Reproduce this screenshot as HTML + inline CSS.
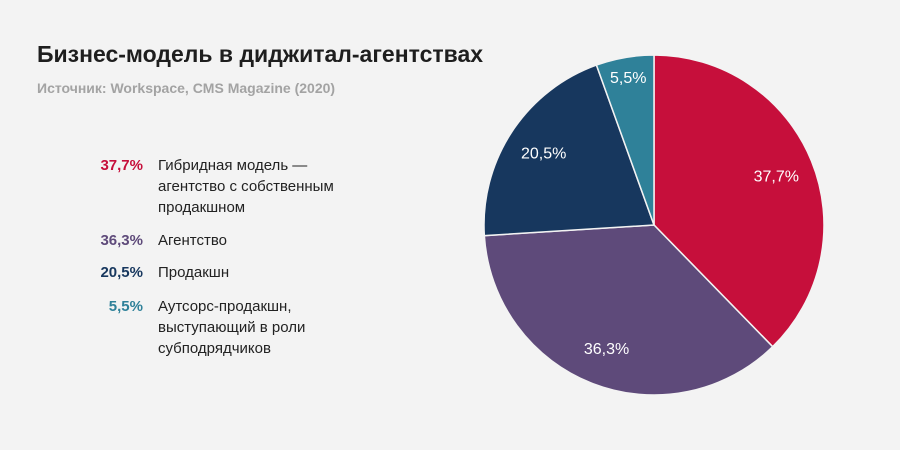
<!DOCTYPE html>
<html><head><meta charset="utf-8"><style>
body{margin:0;width:900px;height:450px;background:#f3f3f3;font-family:"Liberation Sans",sans-serif;overflow:hidden;position:relative}
.title{position:absolute;left:37px;top:41px;font-size:23px;font-weight:bold;color:#1e1e1e;letter-spacing:0px}
.sub{position:absolute;left:37px;top:80px;font-size:14px;font-weight:bold;color:#a3a3a3}
.leg{position:absolute;left:90px;width:300px;font-size:15px;line-height:21px;color:#222}
.leg b{position:absolute;left:0;width:53px;text-align:right}
.leg span{position:absolute;left:68px;width:240px;white-space:nowrap}
svg{position:absolute;left:0;top:0}
</style></head><body>
<div class="title">Бизнес-модель в диджитал-агентствах</div>
<div class="sub">Источник: Workspace, CMS Magazine (2020)</div>
<div id="legend"></div>
<svg id="pie" width="900" height="450"></svg>
<script>
const categories=["Гибридная модель —<br>агентство с собственным<br>продакшном","Агентство","Продакшн","Аутсорс-продакшн,<br>выступающий в роли<br>субподрядчиков"];
const values=[37.7,36.3,20.5,5.5];
const labels=["37,7%","36,3%","20,5%","5,5%"];
const colors=["#c60f3b","#5e4a7a","#17375e","#2f8199"];
const legTops=[155,230,262,296];
const cx=654,cy=225,R=170,ns="http://www.w3.org/2000/svg";
const svg=document.getElementById('pie');
const total=values.reduce((a,b)=>a+b,0);
let acc=0;
function pt(a,r){return [cx+r*Math.sin(a),cy-r*Math.cos(a)];}
values.forEach((v,i)=>{
  const a0=acc/total*2*Math.PI;acc+=v;const a1=acc/total*2*Math.PI;
  const p0=pt(a0,R),p1=pt(a1,R);
  const path=document.createElementNS(ns,'path');
  path.setAttribute('d',`M${cx},${cy}L${p0[0]},${p0[1]}A${R},${R} 0 ${a1-a0>Math.PI?1:0} 1 ${p1[0]},${p1[1]}Z`);
  path.setAttribute('fill',colors[i]);path.setAttribute('stroke','#f3f3f3');path.setAttribute('stroke-width','1.5');
  
  
  svg.appendChild(path);
  const m=pt((a0+a1)/2,v<10?150:132);
  const t=document.createElementNS(ns,'text');
  t.setAttribute('x',m[0]);t.setAttribute('y',m[1]+6);t.setAttribute('text-anchor','middle');
  t.setAttribute('fill','#fff');t.setAttribute('font-size','16');t.setAttribute('font-family','Liberation Sans, sans-serif');
  t.textContent=labels[i];
  
  
  svg.appendChild(t);
});
const leg=document.getElementById('legend');
categories.forEach((c,i)=>{
  const d=document.createElement('div');d.className='leg';d.style.top=legTops[i]+'px';
  
  
  d.innerHTML=`<b style="color:${colors[i]}">${labels[i]}</b><span>${c}</span>`;
  leg.appendChild(d);
});
</script>
</body></html>
